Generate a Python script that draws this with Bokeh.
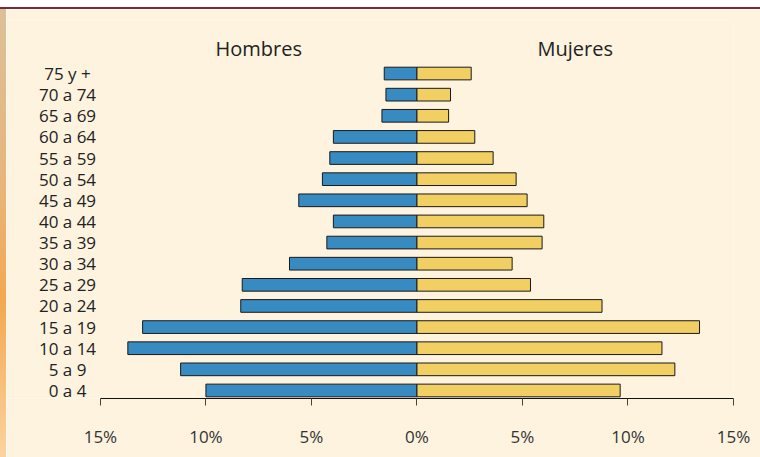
import numpy as np
from bokeh.plotting import figure
from bokeh.models import ColumnDataSource, Label, FixedTicker, Div
from bokeh.core.properties import value
from bokeh.layouts import column, row
from bokeh.embed import file_html
from bokeh.resources import INLINE

categories = ["0 a 4", "5 a 9", "10 a 14", "15 a 19", "20 a 24", "25 a 29", "30 a 34",
              "35 a 39", "40 a 44", "45 a 49", "50 a 54", "55 a 59", "60 a 64",
              "65 a 69", "70 a 74", "75 y +"]
hombres = [10.0, 11.2, 13.7, 13.0, 8.35, 8.28, 6.04, 4.27, 3.96, 5.6, 4.48, 4.13, 3.96, 1.66, 1.47, 1.55]
mujeres = [9.63, 12.22, 11.61, 13.39, 8.77, 5.38, 4.51, 5.93, 6.01, 5.22, 4.70, 3.61, 2.74, 1.50, 1.59, 2.57]
tick_values = [-15, -10, -5, 0, 5, 10, 15]
tick_labels = ["15%", "10%", "5%", "0%", "5%", "10%", "15%"]

FONT = "Open Sans"
BG = "#fdf3df"
BLUE = "#388bc0"
YELLOW = "#f1cf63"
LABEL_X = -16.56  # centre of the age-group labels, in axis units

ypos = list(range(len(categories)))
src = ColumnDataSource(dict(
    y=ypos,
    men_left=[-v for v in hombres],
    zero=[0] * len(categories),
    women_right=mujeres,
    lab=categories,
    lab_x=[LABEL_X] * len(categories),
))

p = figure(width=754, height=448, output_backend="svg", toolbar_location=None,
           x_range=(-19.45, 15), y_range=(-0.38, 17.51),
           min_border_left=0, min_border_right=27, min_border_top=11, min_border_bottom=59)
p.background_fill_color = BG
p.border_fill_color = BG
p.outline_line_color = None
p.grid.visible = False

p.hbar(y="y", left="men_left", right="zero", height=0.6, source=src,
       fill_color=BLUE, line_color="#1a1a1a", line_width=1)
p.hbar(y="y", left="zero", right="women_right", height=0.6, source=src,
       fill_color=YELLOW, line_color="#1a1a1a", line_width=1)

p.text(x="lab_x", y="y", text="lab", source=src,
       text_align="center", text_baseline="middle",
       text_font=value(FONT), text_font_size="17px", text_color="#222222")

xa = p.xaxis[0]
xa.bounds = (-15, 15)
xa.ticker = FixedTicker(ticks=tick_values)
xa.major_label_overrides = {v: l for v, l in zip(tick_values, tick_labels)}
xa.axis_line_color = "#111111"
xa.major_tick_line_color = "#444444"
xa.major_tick_out = 7
xa.major_tick_in = 0
xa.minor_tick_line_color = None
xa.major_label_standoff = 19
xa.major_label_text_font = FONT
xa.major_label_text_font_size = "17px"
xa.major_label_text_color = "#333333"

p.yaxis.visible = False

for txt, xv in (("Hombres", -7.5), ("Mujeres", 7.5)):
    p.add_layout(Label(x=xv, y=16.2, text=txt, text_align="center", text_baseline="middle",
                       text_font=FONT, text_font_size="20px", text_color="#222222"))

white_top = Div(width=760, height=7, margin=(0, 0, 0, 0), styles={"background-color": "#ffffff"})
red_line = Div(width=760, height=2, margin=(0, 0, 0, 0), styles={"background-color": "#7b2a35"})
strip = Div(width=6, height=448, margin=(0, 0, 0, 0),
            styles={"background": "linear-gradient(to bottom, #dcc09a 0%, #e8b57a 40%, #f4a850 65%, #fbd3a0 100%)"})
layout = column(white_top, red_line, row(strip, p, spacing=0), spacing=0)

open("out.html", "w").write(file_html(layout, INLINE))
